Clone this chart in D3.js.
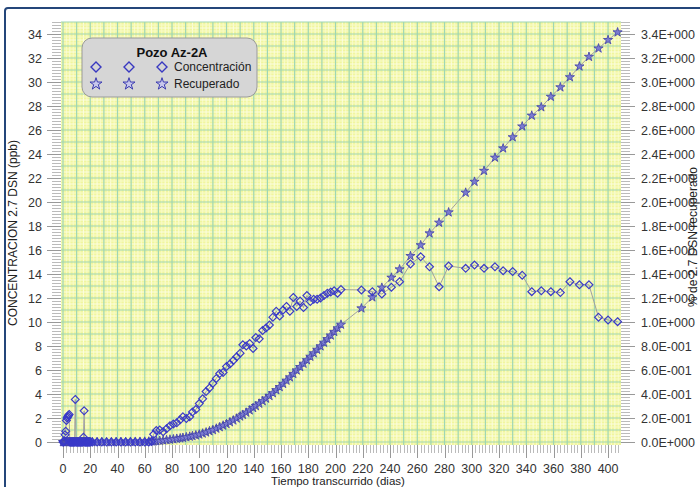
<!DOCTYPE html>
<html><head><meta charset="utf-8">
<script src="https://cdn.jsdelivr.net/npm/d3@7"></script>
<style>
html,body{margin:0;padding:0;background:#fff;}
svg text{font-family:"Liberation Sans",Arial,sans-serif;}
</style></head>
<body><svg id="c" width="700" height="487"></svg>
<script>
// ---- data ----
const legendTitle = "Pozo Az-2A";
const seriesNames = ["Concentración", "Recuperado"];
const leftTicks = [0,2,4,6,8,10,12,14,16,18,20,22,24,26,28,30,32,34];
const rightTicks = [0,0.2,0.4,0.6,0.8,1.0,1.2,1.4,1.6,1.8,2.0,2.2,2.4,2.6,2.8,3.0,3.2,3.4];
const rightTickLabels = ["0.0E+000","2.0E-001","4.0E-001","6.0E-001","8.0E-001","1.0E+000","1.2E+000","1.4E+000","1.6E+000","1.8E+000","2.0E+000","2.2E+000","2.4E+000","2.6E+000","2.8E+000","3.0E+000","3.2E+000","3.4E+000"];
const xTicks = [0,20,40,60,80,100,120,140,160,180,200,220,240,260,280,300,320,340,360,380,400];

const days = [0,0.5,1,1.5,2,2.5,3,3.5,4,4.5,5,5.5,6,6.5,7,7.5,8,8.5,9,9.5,10,10.5,11,11.5,12,12.5,13,13.5,14,14.5,15,15.5,16,16.5,17,17.5,18,18.5,19,19.5,20,
 21.5,25,28.5,32,35.5,39,42.5,46,49.5,53,56.5,60,63,
 65,66.5,68.5,71,73.5,76,78.5,81,83.5,86,88,90.5,93,95,97.5,100,102.5,105,107.5,110,112.5,115,117.5,120,122.5,125,127.5,130,132,134.5,137,139.5,141.5,144,146.5,149,151.5,154,156.5,159,161.5,164,166.5,169,171.5,174,176.5,179,181.5,184,186.5,189,191.5,194,196.5,199,201.5,204,
 219,227,234,241,247,255,262.5,269,276,283,295.5,302,309,317,323,330,337,344,351,358,365,372,379,386,393,400,407];

const concentracion = [0,0,0.1,0.6,0.9,1.8,2.0,2.1,2.2,2.3,0,0,0,0,0,0,0,0,3.55,0,0,0,0,0,0,0,0,0,0,0,0.4,2.6,0,0,0,0,0,0,0,0,0,
 0,0,0,0,0,0,0,0,0,0,0,0,0,
 0.05,0.64,0.95,1.0,0.86,1.1,1.35,1.5,1.6,1.85,2.1,1.95,2.1,2.5,2.7,3.2,3.6,4.2,4.5,4.9,5.3,5.7,5.8,6.3,6.5,6.8,7.1,7.4,8.1,8.0,8.2,7.8,8.7,8.6,9.3,9.5,9.75,10.4,10.9,10.5,11.0,11.3,10.9,12.05,11.3,11.75,11.2,12.2,11.7,11.9,11.9,12.0,12.2,12.4,12.5,12.6,12.4,12.7,
 12.67,12.53,12.33,12.9,13.36,14.83,15.44,14.6,12.94,14.67,14.47,14.75,14.47,14.6,14.27,14.2,13.9,12.53,12.6,12.53,12.45,13.36,13.1,13.1,10.4,10.17,10.03];

const recuperado = [0,0,0,0,0,0,0,0,0,0,0,0,0,0,0,0,0,0,0,0,0,0,0,0,0,0,0,0,0,0,0,0,0,0,0,0,0,0,0,0,0,
 0,0,0,0,0,0.001,0.001,0.001,0.002,0.002,0.002,0.003,0.004,
 0.005,0.006,0.008,0.010,0.013,0.016,0.020,0.023,0.027,0.031,0.035,0.040,0.045,0.050,0.056,0.063,0.071,0.080,0.090,0.100,0.112,0.124,0.137,0.150,0.165,0.180,0.196,0.213,0.227,0.245,0.264,0.284,0.300,0.320,0.341,0.362,0.384,0.407,0.432,0.458,0.485,0.512,0.539,0.568,0.597,0.625,0.653,0.682,0.711,0.740,0.769,0.798,0.828,0.858,0.888,0.918,0.948,0.978,
 1.114,1.206,1.286,1.370,1.439,1.550,1.640,1.739,1.828,1.914,2.078,2.169,2.260,2.370,2.447,2.540,2.630,2.720,2.790,2.877,2.956,3.040,3.130,3.210,3.280,3.350,3.414];

// ---- layout ----
const svg = d3.select("#c");
const plot = {left:61, right:621, top:22, bottom:445};
const x = d3.scaleLinear().domain([-1.47, 409.5]).range([plot.left, plot.right]);
const y = d3.scaleLinear().domain([-0.25, 35]).range([plot.bottom, plot.top]);
const y2 = d3.scaleLinear().domain([-0.025, 3.5]).range([plot.bottom, plot.top]);

// outer frame
svg.append("rect").attr("x",5).attr("y",8).attr("width",720).attr("height",520).attr("rx",3)
  .attr("fill","none").attr("stroke","#24467a").attr("stroke-width",2);

// plot background
svg.append("rect").attr("x",plot.left).attr("y",plot.top).attr("width",plot.right-plot.left).attr("height",plot.bottom-plot.top)
  .attr("fill","#f1f69e");

const gGrid = svg.append("g");
const fineX = d3.range(0, 410, 2.5).filter(v=>v%10!==0);
const fineY = d3.range(0, 35, 0.25).filter(v=>v%1!==0);
gGrid.selectAll(".fx").data(fineX).join("line")
  .attr("x1",d=>x(d)).attr("x2",d=>x(d)).attr("y1",plot.top).attr("y2",plot.bottom)
  .attr("stroke",d=>d%5===0?"#fbfde0":"#f8fbc8").attr("stroke-width",1);
gGrid.selectAll(".fy").data(fineY).join("line")
  .attr("y1",d=>y(d)).attr("y2",d=>y(d)).attr("x1",plot.left).attr("x2",plot.right)
  .attr("stroke",d=>d%0.5===0?"#fbfde0":"#f8fbc8").attr("stroke-width",1);
gGrid.selectAll(".gx").data(d3.range(0, 410, 10)).join("line")
  .attr("x1",d=>x(d)).attr("x2",d=>x(d)).attr("y1",plot.top).attr("y2",plot.bottom)
  .attr("stroke","#9fd6b4").attr("stroke-width",1.2);
gGrid.selectAll(".gy").data(d3.range(0, 36, 1)).join("line")
  .attr("y1",d=>y(d)).attr("y2",d=>y(d)).attr("x1",plot.left).attr("x2",plot.right)
  .attr("stroke","#9fd6b4").attr("stroke-width",1.2);

// ---- axes ----
const tickCol = "#bbbbbb";
const axLeft = svg.append("g");
axLeft.selectAll("line.m").data(d3.range(0, 35.01, 0.25)).join("line")
  .attr("x1",plot.left-9).attr("x2",plot.left).attr("y1",d=>Math.round(y(d))+0.5).attr("y2",d=>Math.round(y(d))+0.5)
  .attr("stroke",tickCol).attr("stroke-width",1);
axLeft.selectAll("line.M").data(leftTicks).join("line")
  .attr("x1",plot.left-14).attr("x2",plot.left).attr("y1",d=>Math.round(y(d))+0.5).attr("y2",d=>Math.round(y(d))+0.5)
  .attr("stroke","#999").attr("stroke-width",1);
axLeft.selectAll("text").data(leftTicks).join("text")
  .attr("x",42).attr("y",d=>y(d)+4.5).attr("text-anchor","end")
  .attr("font-size",12.5).attr("fill","#333").text(d=>d);

const axRight = svg.append("g");
axRight.selectAll("line.m").data(d3.range(0, 3.501, 0.025)).join("line")
  .attr("x1",plot.right).attr("x2",plot.right+9).attr("y1",d=>Math.round(y2(d))+0.5).attr("y2",d=>Math.round(y2(d))+0.5)
  .attr("stroke",tickCol).attr("stroke-width",1);
axRight.selectAll("line.M").data(rightTicks).join("line")
  .attr("x1",plot.right).attr("x2",plot.right+14).attr("y1",d=>Math.round(y2(d))+0.5).attr("y2",d=>Math.round(y2(d))+0.5)
  .attr("stroke","#999").attr("stroke-width",1);
axRight.selectAll("text").data(rightTicks).join("text")
  .attr("x",641).attr("y",d=>y2(d)+4.5).attr("text-anchor","start")
  .attr("font-size",12.5).attr("fill","#333").text((d,i)=>rightTickLabels[i]);

const axBottom = svg.append("g");
axBottom.selectAll("line.m").data(d3.range(0, 409.5, 2.5)).join("line")
  .attr("x1",d=>Math.round(x(d))+0.5).attr("x2",d=>Math.round(x(d))+0.5).attr("y1",plot.bottom).attr("y2",plot.bottom+8)
  .attr("stroke",tickCol).attr("stroke-width",1);
axBottom.selectAll("line.M").data(xTicks).join("line")
  .attr("x1",d=>Math.round(x(d))+0.5).attr("x2",d=>Math.round(x(d))+0.5).attr("y1",plot.bottom).attr("y2",plot.bottom+13)
  .attr("stroke","#999").attr("stroke-width",1);
axBottom.selectAll("text").data(xTicks).join("text")
  .attr("x",d=>x(d)).attr("y",473).attr("text-anchor","middle")
  .attr("font-size",12.5).attr("fill","#333").text(d=>d);

// axis titles
svg.append("text").attr("transform","translate(17,233) rotate(-90)").attr("text-anchor","middle")
  .attr("font-size",12).attr("fill","#222").text("CONCENTRACION 2.7 DSN (ppb)");
svg.append("text").attr("transform","translate(697,237) rotate(-90)").attr("text-anchor","middle")
  .attr("font-size",12).attr("fill","#222").text("% de 2.7 DSN recuperado");
svg.append("text").attr("x",338).attr("y",484.5).attr("text-anchor","middle")
  .attr("font-size",11.5).attr("fill","#222").text("Tiempo transcurrido (dias)");

// ---- series ----
const data = days.map((d,i)=>({d, c:concentracion[i], r:recuperado[i]}));
const lineC = d3.line().x(p=>x(p.d)).y(p=>y(p.c));
const lineR = d3.line().x(p=>x(p.d)).y(p=>y2(p.r));
svg.append("path").datum(data).attr("d",lineR).attr("fill","none").attr("stroke","#a0a0a0").attr("stroke-width",1);
svg.append("path").datum(data).attr("d",lineC).attr("fill","none").attr("stroke","#a0a0a0").attr("stroke-width",1);

const star = d3.symbol().type(d3.symbolStar).size(26);
const diamondPath = "M0,-3.9L3.9,0L0,3.9L-3.9,0Z";
svg.append("g").selectAll("path").data(data).join("path")
  .attr("transform",p=>`translate(${x(p.d)},${y2(p.r)})`).attr("d",star())
  .attr("fill","#7c7cd0").attr("stroke","#4040a8").attr("stroke-width",0.8);
svg.append("g").selectAll("path").data(data).join("path")
  .attr("transform",p=>`translate(${x(p.d)},${y(p.c)})`).attr("d",diamondPath)
  .attr("fill","none").attr("stroke","#3a3ac8").attr("stroke-width",1.2);

// ---- legend ----
const lg = svg.append("g");
lg.append("rect").attr("x",82).attr("y",38).attr("width",175).attr("height",59).attr("rx",10)
  .attr("fill","#d6d6d6").attr("stroke","#9a9a9a").attr("stroke-width",1);
lg.append("text").attr("x",172).attr("y",57).attr("text-anchor","middle").attr("font-size",13)
  .attr("font-weight","bold").attr("fill","#111").text(legendTitle);
[96,129,162].forEach(cx=>{
  lg.append("path").attr("transform",`translate(${cx},67)`).attr("d","M0,-5L5,0L0,5L-5,0Z")
    .attr("fill","none").attr("stroke","#3838c0").attr("stroke-width",1.4);
  lg.append("path").attr("transform",`translate(${cx},84)`).attr("d",d3.symbol().type(d3.symbolStar).size(45)())
    .attr("fill","#c8c8ec").attr("stroke","#3a3ab0").attr("stroke-width",1);
});
lg.append("text").attr("x",174).attr("y",71).attr("font-size",12).attr("fill","#222").text(seriesNames[0]);
lg.append("text").attr("x",174).attr("y",88).attr("font-size",12).attr("fill","#222").text(seriesNames[1]);
</script></body></html>
